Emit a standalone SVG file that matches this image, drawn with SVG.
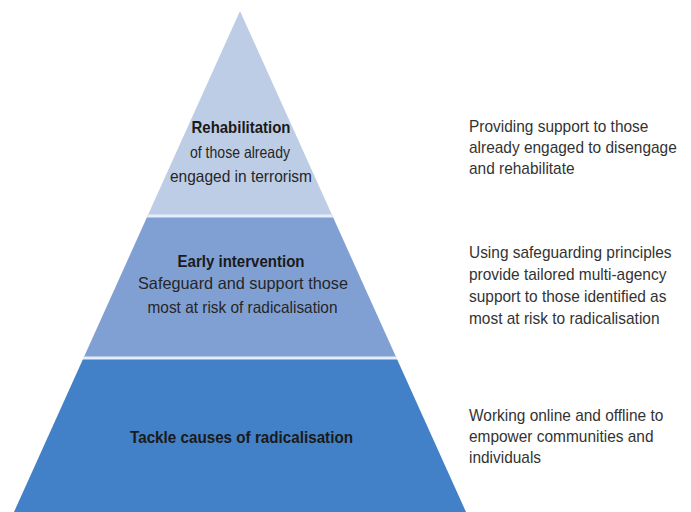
<svg xmlns="http://www.w3.org/2000/svg" width="691" height="512" viewBox="0 0 691 512">
<style>
.t{font-family:"Liberation Sans",Arial,sans-serif;text-anchor:middle;fill:#262626;font-size:16.5px}
.b{font-weight:bold;fill:#1a1a1a}
.r{font-family:"Liberation Sans",Arial,sans-serif;fill:#333;font-size:16.8px}
.sep{stroke:#e4edf9;stroke-width:3}
</style>
<rect width="691" height="512" fill="#fff"/>
<g id="tier-rehabilitation">
<polygon points="240,11 332.5,216 147.5,216" fill="#becde6"/>
<text class="t b" x="241" y="133" textLength="99" lengthAdjust="spacingAndGlyphs">Rehabilitation</text>
<text class="t" x="240" y="158" textLength="100" lengthAdjust="spacingAndGlyphs">of those already</text>
<text class="t" x="241" y="182" textLength="142" lengthAdjust="spacingAndGlyphs">engaged in terrorism</text>
</g>
<g id="tier-early-intervention">
<polygon points="147.5,216 332.5,216 396.5,358 83.5,358" fill="#80a0d4"/>
<text class="t b" x="241" y="267" textLength="127" lengthAdjust="spacingAndGlyphs">Early intervention</text>
<text class="t" x="243" y="289" textLength="210" lengthAdjust="spacingAndGlyphs">Safeguard and support those</text>
<text class="t" x="242.5" y="313" textLength="190" lengthAdjust="spacingAndGlyphs">most at risk of radicalisation</text>
</g>
<g id="tier-tackle-causes">
<polygon points="83.5,358 396.5,358 466,512 14,512" fill="#4280c7"/>
<text class="t b" x="241.5" y="443" textLength="223" lengthAdjust="spacingAndGlyphs">Tackle causes of radicalisation</text>
</g>
<g id="connectors">
<line class="sep" x1="147" y1="216" x2="333" y2="216"/>
<line class="sep" x1="83" y1="358" x2="397" y2="358"/>
</g>
<g id="desc-rehabilitation" transform="translate(469,0) scale(0.92,1)">
<text class="r" x="0" y="132">Providing support to those</text>
<text class="r" x="0" y="153">already engaged to disengage</text>
<text class="r" x="0" y="174">and rehabilitate</text>
</g>
<g id="desc-early-intervention" transform="translate(469,0) scale(0.92,1)">
<text class="r" x="0" y="258">Using safeguarding principles</text>
<text class="r" x="0" y="280">provide tailored multi-agency</text>
<text class="r" x="0" y="302">support to those identified as</text>
<text class="r" x="0" y="324">most at risk to radicalisation</text>
</g>
<g id="desc-tackle-causes" transform="translate(469,0) scale(0.92,1)">
<text class="r" x="0" y="421">Working online and offline to</text>
<text class="r" x="0" y="442">empower communities and</text>
<text class="r" x="0" y="463">individuals</text>
</g>
</svg>
